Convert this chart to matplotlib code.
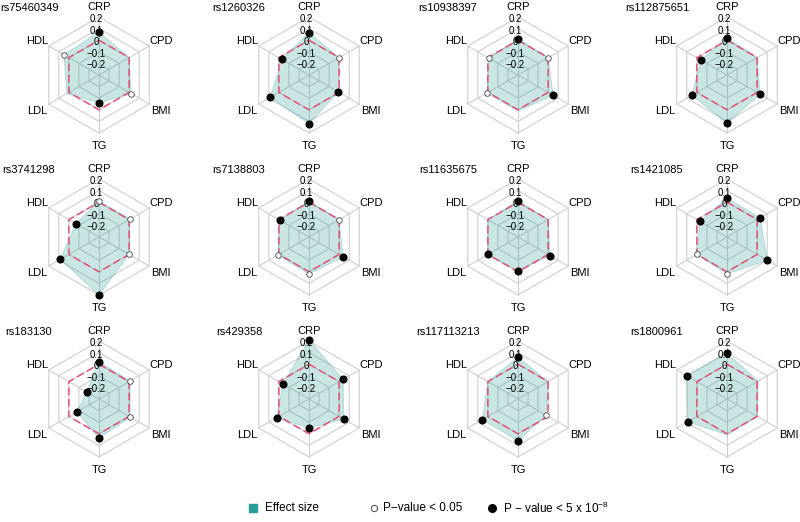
import numpy as np
import matplotlib
matplotlib.use('Agg')
import matplotlib.pyplot as plt

plt.rcParams['font.family'] = ['Liberation Sans', 'DejaVu Sans']
plt.rcParams['mathtext.fontset'] = 'custom'
plt.rcParams['mathtext.rm'] = 'Liberation Sans'
plt.rcParams['mathtext.it'] = 'Liberation Sans:italic'

# traits clockwise from the top
traits = ['CRP', 'CPD', 'BMI', 'TG', 'LDL', 'HDL']
snps = ['rs75460349', 'rs1260326', 'rs10938397', 'rs112875651',
        'rs3741298', 'rs7138803', 'rs11635675', 'rs1421085',
        'rs183130', 'rs429358', 'rs117113213', 'rs1800961']

# effect sizes per trait (one value per SNP, same order as snps)
crp = [0.07, 0.065, 0.01, 0.02, 0.01, 0.01, 0.01, 0.035, 0.02, 0.21, 0.06, 0.095]
cpd = [0.00, 0.00, 0.00, 0.00, 0.01, 0.00, 0.00, 0.03, 0.01, 0.04, 0.00, 0.01]
bmi = [0.02, -0.01, 0.05, 0.03, 0.00, 0.04, 0.02, 0.10, 0.01, 0.045, -0.02, 0.00]
tg = [-0.06, 0.12, 0.01, 0.115, 0.20, 0.02, -0.01, 0.02, 0.04, -0.05, 0.06, 0.01]
ldl = [0.02, 0.085, 0.01, 0.05, 0.085, 0.01, 0.00, 0.00, -0.08, 0.02, 0.055, 0.09]
hdl = [0.05, -0.03, -0.01, -0.04, -0.07, -0.01, 0.00, -0.03, -0.18, -0.04, 0.00, 0.10]

# significance: 0 = none, 1 = P < 0.05, 2 = P < 5e-8
crp_sig = [2, 2, 2, 2, 1, 2, 2, 2, 2, 2, 2, 2]
cpd_sig = [0, 1, 1, 0, 1, 1, 0, 2, 1, 2, 0, 0]
bmi_sig = [1, 2, 2, 2, 1, 2, 2, 2, 1, 2, 1, 0]
tg_sig = [2, 2, 0, 2, 2, 1, 2, 1, 2, 2, 2, 0]
ldl_sig = [0, 2, 1, 2, 2, 1, 2, 1, 2, 2, 2, 2]
hdl_sig = [1, 2, 1, 2, 2, 2, 0, 2, 2, 2, 0, 2]

levels = [-0.2, -0.1, 0, 0.1, 0.2]
level_labels = ['\u22120.2', '\u22120.1', '0', '0.1', '0.2']
vmin, vmax = -0.3, 0.2

TEAL = '#2a9d9a'
RED = '#e5507a'
GRID = '#cfcfcf'

effects = np.array([crp, cpd, bmi, tg, ldl, hdl]).T
sigs = np.array([crp_sig, cpd_sig, bmi_sig, tg_sig, ldl_sig, hdl_sig]).T

ang = np.deg2rad(90 - 60 * np.arange(6))


def to_xy(vals):
    r = (np.asarray(vals, dtype=float) - vmin) / (vmax - vmin)
    return r * np.cos(ang), r * np.sin(ang)


W, H = 800, 522
fig = plt.figure(figsize=(W / 100, H / 100), dpi=100)

R = 58.0  # outer radius in px
col_cx = [99, 309, 518, 727]
row_cy = [75, 237, 399]
hw, hh = 104, 80

for k, snp in enumerate(snps):
    cx, cy = col_cx[k % 4], row_cy[k // 4]
    ax = fig.add_axes([(cx - hw) / W, 1 - (cy + hh) / H, 2 * hw / W, 2 * hh / H])
    ax.set_xlim(-hw / R, hw / R)
    ax.set_ylim(-hh / R, hh / R)
    ax.axis('off')

    # grid hexagons and spokes
    for lev in levels:
        gx, gy = to_xy([lev] * 6)
        ax.plot(np.append(gx, gx[0]), np.append(gy, gy[0]), color=GRID, lw=0.8, zorder=1)
    ox, oy = to_xy([vmax] * 6)
    for i in range(6):
        ax.plot([0, ox[i]], [0, oy[i]], color=GRID, lw=0.8, zorder=1)

    # effect polygon
    px, py = to_xy(effects[k])
    ax.fill(px, py, color=TEAL, alpha=0.25, lw=0, zorder=2)
    ax.plot(np.append(px, px[0]), np.append(py, py[0]), color=TEAL, alpha=0.3, lw=0.6, zorder=2)

    # zero line
    zx, zy = to_xy([0] * 6)
    ax.plot(np.append(zx, zx[0]), np.append(zy, zy[0]), color=RED, lw=1.1,
            dashes=(5, 2.5), zorder=3)

    # markers
    for i in range(6):
        if sigs[k, i] == 2:
            ax.plot(px[i], py[i], 'o', ms=4.8, color='black', zorder=5)
        elif sigs[k, i] == 1:
            ax.plot(px[i], py[i], 'o', ms=4.0, mfc='white', mec='#444444', mew=0.6, zorder=5)

    # level labels along the CRP axis
    for lev, lab in zip(levels, level_labels):
        r = (lev - vmin) / (vmax - vmin)
        ax.text(-3 / R, r - 2 / R, lab, ha='center', va='center', fontsize=7, zorder=4)

    # trait labels
    for i, t in enumerate(traits):
        ax.text(1.23 * np.cos(ang[i]), 1.2 * np.sin(ang[i]) - 0.02, t,
                ha='center', va='center', fontsize=8)

    ax.text(-70 / R, 1.16, snp, ha='center', va='center', fontsize=8)

# legend
lg = fig.add_axes([0, 0, 1, 1])
lg.set_xlim(0, W)
lg.set_ylim(H, 0)
lg.axis('off')
lg.plot(253, 508, 's', ms=5.5, color=TEAL)
lg.text(265, 508, 'Effect size', ha='left', va='center', fontsize=8.5)
lg.plot(374, 508, 'o', ms=4.5, mfc='white', mec='#444444', mew=0.7)
lg.text(383, 508, 'P\u2212value < 0.05', ha='left', va='center', fontsize=8.5)
lg.plot(492, 508, 'o', ms=5.5, color='black')
lg.text(503, 508, 'P \u2212 value < 5 x 10$^{\u22128}$', ha='left', va='center', fontsize=8.5)

fig.savefig('out.png', dpi=100)
